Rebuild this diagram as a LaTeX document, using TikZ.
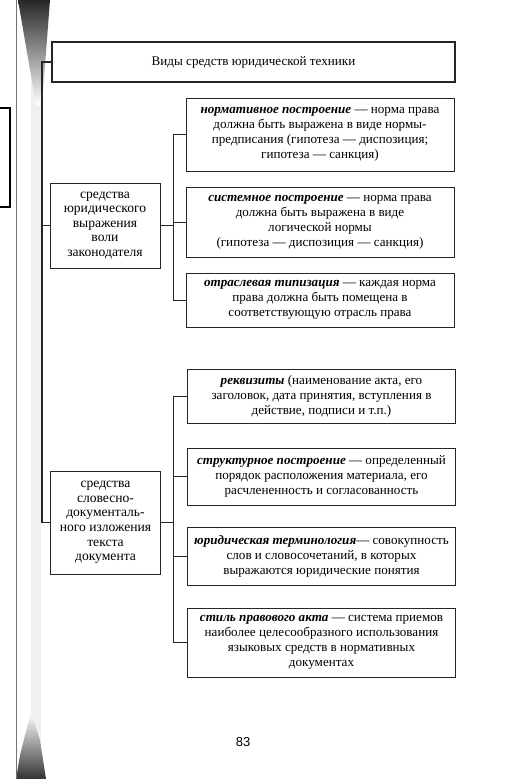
\documentclass[tikz,border=0pt]{standalone}
\usepackage{fontspec}
\setmainfont{Liberation Serif}
\newfontfamily\pagefont{Liberation Sans}
\usetikzlibrary{positioning}

\begin{document}
\begin{tikzpicture}[x=1pt, y=-1pt,
    box/.style={draw=black!85, line width=0.8pt, align=center, inner sep=2pt,
        font=\fontsize{13.1}{15}\selectfont},
    leftbox/.style={box, minimum width=110pt, font=\fontsize{13.6}{14.6}\selectfont},
    rightbox/.style={box, minimum width=268pt},
    link/.style={draw=black!85, line width=0.8pt}]

        \useasboundingbox (0,0) rectangle (504,779);

        \fill[black!6] (31,0) rectangle (41,779);
        \shade[top color=black!85, bottom color=white]
            (18,0) -- (50,0) -- (42,105) -- (36,105) -- cycle;
        \shade[bottom color=black!80, top color=white]
            (16,779) -- (46,779) -- (40,740) -- (31,712) -- (20,755) -- cycle;
        \draw[black!55, line width=0.7pt] (16.5,0) -- (16.5,779);

        \draw[line width=1.5pt] (0,108) -- (10,108) -- (10,207) -- (0,207);

        \node[box, fill=white, line width=2.2pt, minimum width=403pt, minimum height=40pt] (title)
            at (253.5,62) {Виды средств юридической техники};

        \node[leftbox, minimum height=85pt] (law) at (105,225.5)
            {средства\\юридического\\выражения\\воли\\законодателя};

        \node[leftbox, minimum height=103pt] (doc) at (105.5,522.5)
            {средства\\словесно-\\документаль-\\ного изложения\\текста\\документа};

        \node[rightbox, minimum height=73pt] (norm) at (320,134.5)
            {\textbf{\textit{нормативное построение}} — норма права\\должна быть выражена в виде нормы-\\предписания (гипотеза — диспозиция;\\гипотеза — санкция)};
        \node[rightbox, minimum height=70pt] (sys) at (320,222)
            {\textbf{\textit{системное построение}} — норма права\\должна быть выражена в виде\\логической нормы\\(гипотеза — диспозиция — санкция)};
        \node[rightbox, minimum height=54pt] (branch) at (320,300)
            {\textbf{\textit{отраслевая типизация}} — каждая норма\\права должна быть помещена в\\соответствующую отрасль права};

        \node[rightbox, minimum height=54pt] (req) at (321.5,396)
            {\textbf{\textit{реквизиты}} (наименование акта, его\\заголовок, дата принятия, вступления в\\действие, подписи и т.п.)};
        \node[rightbox, minimum height=57pt] (struct) at (321.5,476.5)
            {\textbf{\textit{структурное построение}} — определенный\\порядок расположения материала, его\\расчлененность и согласованность};
        \node[rightbox, minimum height=58pt] (term) at (321.5,556)
            {\textbf{\textit{юридическая терминология}}— совокупность\\слов и словосочетаний, в которых\\выражаются юридические понятия};
        \node[rightbox, minimum height=69pt] (style) at (321.5,642.5)
            {\textbf{\textit{стиль правового акта}} — система приемов\\наиболее целесообразного использования\\языковых средств в нормативных\\документах};

        \node[font=\pagefont\fontsize{13}{15}\selectfont] (page) at (243,742) {83};

        \coordinate (trunk) at (42,0);
        \coordinate (bus) at (173,0);

        \draw[link, line width=1.4pt] (title.west) -- (title.west -| trunk) -- (doc.west -| trunk) -- (doc.west);
        \draw[link] (law.west -| trunk) -- (law.west);

        \draw[link] (law.east) -- (law.east -| bus);
        \draw[link] (norm.west) -- (norm.west -| bus) -- (branch.west -| bus) -- (branch.west);
        \draw[link] (sys.west) -- (sys.west -| bus);

        \draw[link] (doc.east) -- (doc.east -| bus);
        \draw[link] (req.west) -- (req.west -| bus) -- (style.west -| bus) -- (style.west);
        \foreach \n in {struct, term}
        \draw[link] (\n.west) -- (\n.west -| bus);

\end{tikzpicture}
\end{document}
